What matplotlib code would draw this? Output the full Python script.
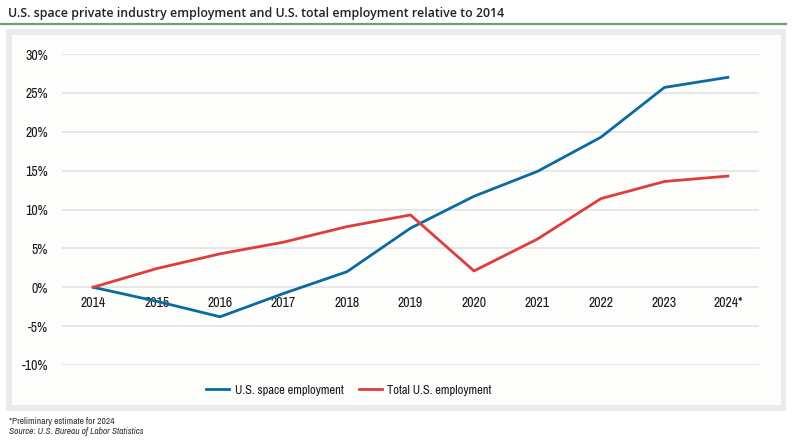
import numpy as np
import matplotlib.pyplot as plt
from matplotlib.patches import Rectangle
from matplotlib.lines import Line2D

# data (% change vs 2014)
years = ['2014', '2015', '2016', '2017', '2018', '2019', '2020', '2021', '2022', '2023', '2024*']
space = [0.0, -1.8, -3.8, -0.8, 2.0, 7.6, 11.7, 14.9, 19.3, 25.7, 27.0]
total = [0.0, 2.4, 4.3, 5.8, 7.8, 9.3, 2.1, 6.2, 11.4, 13.6, 14.3]
yticks = [-10, -5, 0, 5, 10, 15, 20, 25, 30]

plt.rcParams['font.family'] = ['Archivo Narrow', 'Barlow Semi Condensed', 'DejaVu Sans']

fig = plt.figure(figsize=(7.92, 4.45), dpi=100)
W, H = 792, 445

# background panels
fig.add_artist(Rectangle((6/W, 1-411/H), 780/W, 382/H, transform=fig.transFigure,
                         facecolor='#ebebeb', edgecolor='none', zorder=0))
fig.add_artist(Rectangle((12/W, 1-405/H), 769/W, 370/H, transform=fig.transFigure,
                         facecolor='#fdfdfb', edgecolor='none', zorder=0))
fig.add_artist(Line2D([0, 786/W], [1-24/H, 1-24/H], transform=fig.transFigure,
                      color='#6a9e78', lw=1.6))

fig.text(8/W, 1-13/H, 'U.S. space private industry employment and U.S. total employment relative to 2014',
         fontsize=8.9, fontweight='semibold', family=['Open Sans', 'DejaVu Sans'],
         color='#222222', va='center', ha='left')

ax = fig.add_axes([62/W, 1-365/H, 697/W, 311/H])
ax.set_facecolor('none')
x = np.arange(len(years))
ax.plot(x, space, color='#0b6a9f', lw=2.0, label='U.S. space employment', zorder=3)
ax.plot(x, total, color='#e03c3c', lw=2.0, label='Total U.S. employment', zorder=3)

ax.set_xlim(-0.49, len(years) - 0.51)
ax.set_ylim(-10, 30)
ax.set_yticks(yticks)
ax.set_yticklabels([f'{v}%' for v in yticks])
ax.set_xticks(x)
ax.set_xticklabels(years)
ax.grid(axis='y', color='#e3e3e3', lw=1.2, zorder=0)
for s in ax.spines.values():
    s.set_visible(False)
ax.spines['bottom'].set_position(('data', 0))
ax.tick_params(axis='both', length=0, labelsize=10, colors='#1a1a1a')
ax.tick_params(axis='x', pad=6)
ax.tick_params(axis='y', pad=10)

leg = fig.legend(loc='center', bbox_to_anchor=(349/W, 1-390/H), ncol=2, frameon=False,
                 fontsize=9, handlelength=1.85, columnspacing=1.2, handletextpad=0.45)
for t in leg.get_texts():
    t.set_color('#1a1a1a')

fig.text(9/W, 1-421/H, '*Preliminary estimate for 2024', fontsize=6.8, color='#333333', va='center')
fig.text(9/W, 1-432/H, 'Source: U.S. Bureau of Labor Statistics', fontsize=6.8, style='italic',
         color='#333333', va='center')

fig.savefig('out.png', dpi=100)
